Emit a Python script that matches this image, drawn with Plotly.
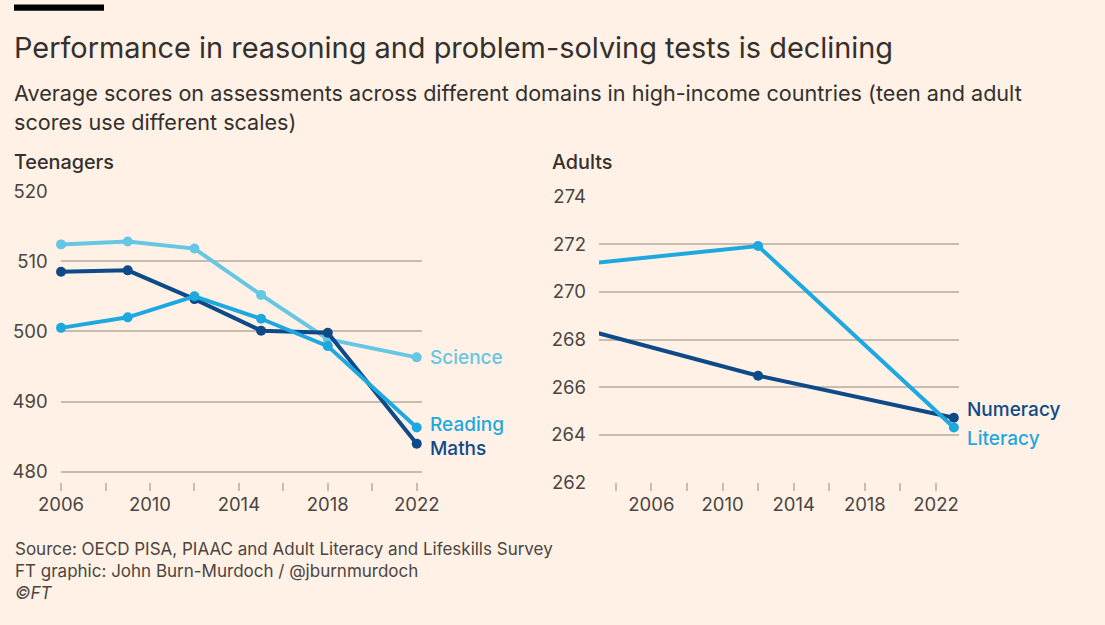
import plotly.graph_objects as go
from plotly.subplots import make_subplots

W, H = 1105, 625

# Teenagers (PISA)
teen_years = [2006, 2009, 2012, 2015, 2018, 2022]
science = [512.4, 512.8, 511.8, 505.2, 498.9, 496.3]
reading = [500.5, 502.0, 505.0, 501.8, 497.9, 486.3]
maths = [508.5, 508.7, 504.6, 500.1, 499.8, 484.0]

# Adults (PIAAC / ALL)
adult_years = [2003, 2012, 2023]
literacy = [271.23, 271.93, 264.30]
numeracy = [268.27, 266.48, 264.71]

teen_yticks = [480, 490, 500, 510, 520]
adult_yticks = [262, 264, 266, 268, 270, 272, 274]
teen_xticks = [2006, 2008, 2010, 2012, 2014, 2016, 2018, 2020, 2022]
adult_xticks = [2004, 2006, 2008, 2010, 2012, 2014, 2016, 2018, 2020, 2022]
labelled_years = [2006, 2010, 2014, 2018, 2022]

BG = "#fff1e5"
GRID = "#c8bcb1"
TEXT = "#33302e"
TICKTXT = "#4a4542"
C_SCI = "#66c6e4"
C_READ = "#1ea8e0"
C_MATH = "#0f4a88"
FONT = "Inter, Lato, sans-serif"


def px_x(p):
    return p / W


def px_y(p):
    return 1 - p / H


fig = make_subplots(rows=1, cols=2)

for name, vals, col in [("Science", science, C_SCI), ("Maths", maths, C_MATH),
                        ("Reading", reading, C_READ)]:
    fig.add_trace(go.Scatter(x=teen_years, y=vals, mode="lines+markers", name=name,
                             line=dict(color=col, width=4), marker=dict(color=col, size=10),
                             cliponaxis=False, showlegend=False), row=1, col=1)

for name, vals, col in [("Numeracy", numeracy, C_MATH), ("Literacy", literacy, C_READ)]:
    fig.add_trace(go.Scatter(x=adult_years, y=vals, mode="lines+markers", name=name,
                             line=dict(color=col, width=4), marker=dict(color=col, size=10),
                             cliponaxis=False, showlegend=False), row=1, col=2)

axis_common = dict(showline=False, zeroline=False, fixedrange=True, automargin=False,
                   tickfont=dict(family=FONT, size=18.5, color=TICKTXT))

fig.update_xaxes(**axis_common, showgrid=False, ticks="outside", ticklen=8, tickwidth=1.5,
                 tickcolor=GRID, ticklabelstandoff=-3)
fig.update_yaxes(**axis_common, showgrid=True, gridcolor=GRID, gridwidth=1.5, ticks="",
                 ticklabelstandoff=12)

fig.update_xaxes(domain=[px_x(60.6), px_x(421.6)], range=[2005.98, 2022.22],
                 tickvals=teen_xticks,
                 ticktext=[str(y) if y in labelled_years else "" for y in teen_xticks],
                 row=1, col=1)
fig.update_xaxes(domain=[px_x(599), px_x(959)], range=[2003.06, 2023.29],
                 tickvals=adult_xticks,
                 ticktext=[str(y) if y in labelled_years else "" for y in adult_xticks],
                 row=1, col=2)
fig.update_yaxes(domain=[px_y(482.3), px_y(190.7)], range=[478.49, 520.05],
                 tickvals=teen_yticks, row=1, col=1)
fig.update_yaxes(domain=[px_y(482.3), px_y(196)], range=[262, 274.03],
                 tickvals=adult_yticks, row=1, col=2)

annotations = []


def text(x, y, s, size, color=TEXT, weight=None):
    f = dict(family=FONT, size=size, color=color)
    if weight:
        f["weight"] = weight
    annotations.append(dict(x=px_x(x), y=px_y(y), xref="paper", yref="paper", text=s,
                            showarrow=False, xanchor="left", yanchor="middle", font=f))


text(12, 47, "Performance in reasoning and problem-solving tests is declining", 28.9)
text(12, 93, "Average scores on assessments across different domains in high-income countries (teen and adult", 21.6)
text(12, 122, "scores use different scales)", 21.6)
text(12, 162, "Teenagers", 19.8, weight=500)
text(550, 162, "Adults", 19.8, weight=500)
text(13, 549, "Source: OECD PISA, PIAAC and Adult Literacy and Lifeskills Survey", 17, "#4a4542")
text(13, 571, "FT graphic: John Burn-Murdoch / @jburnmurdoch", 17, "#4a4542")
text(13, 593, "<i>©FT</i>", 17, "#4a4542")

# end-of-line series labels
for name, xs, vals, col, ref, dy in [
    ("Science", teen_years, science, C_SCI, "", 0),
    ("Reading", teen_years, reading, C_READ, "", 3),
    ("Maths", teen_years, maths, C_MATH, "", -5),
    ("Numeracy", adult_years, numeracy, C_MATH, "2", 8),
    ("Literacy", adult_years, literacy, C_READ, "2", -11),
]:
    annotations.append(dict(x=xs[-1], y=vals[-1], xref="x" + ref, yref="y" + ref, text=name,
                            showarrow=False, xanchor="left", yanchor="middle",
                            xshift=11, yshift=dy,
                            font=dict(family=FONT, size=19, color=col, weight=500)))

fig.update_layout(
    width=W, height=H,
    margin=dict(l=0, r=0, t=0, b=0, autoexpand=False),
    paper_bgcolor=BG, plot_bgcolor=BG,
    font=dict(family=FONT, color=TEXT),
    annotations=annotations,
    shapes=[dict(type="rect", xref="paper", yref="paper",
                 x0=px_x(14), x1=px_x(104), y0=px_y(10.7), y1=px_y(4.6),
                 fillcolor="#000000", line=dict(width=0))],
)

fig.write_html("out.html", config={"displayModeBar": False},
               post_script="document.body.style.margin='0';document.body.style.overflow='hidden';")
